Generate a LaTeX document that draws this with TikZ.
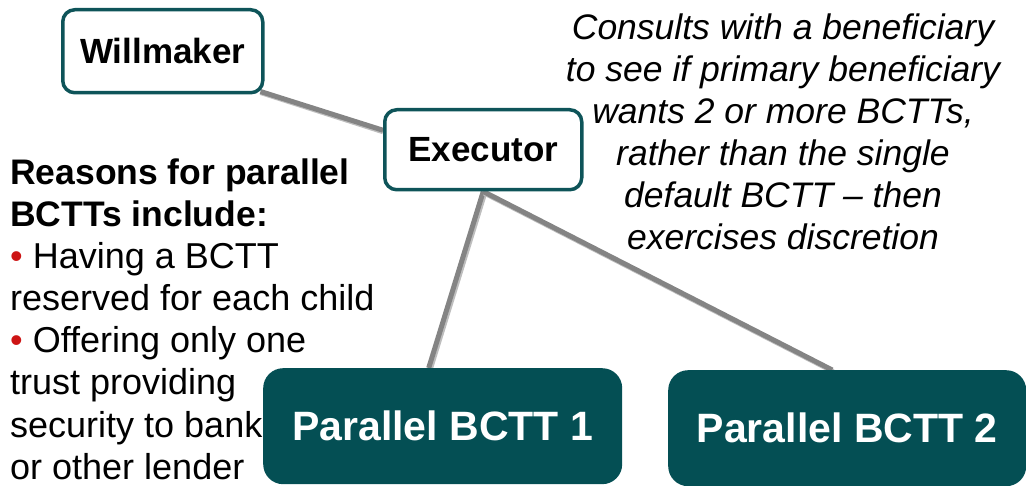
\documentclass[tikz,border=0pt]{standalone}
\usepackage{fontspec}
\setmainfont{Liberation Sans}
\usetikzlibrary{backgrounds,calc}
\definecolor{tealborder}{RGB}{14,84,89}
\definecolor{tealfill}{RGB}{4,79,84}
\definecolor{linkgray}{RGB}{132,132,132}
\definecolor{linkshade}{RGB}{190,190,190}
\definecolor{bulletred}{RGB}{205,20,20}
\tikzset{
  lightbox/.style={draw=tealborder, line width=3.5pt, fill=white, rounded corners=12pt,
    font=\fontsize{35}{42}\selectfont\bfseries, inner sep=0pt, anchor=north west},
  darkbox/.style={fill=tealfill, rounded corners=20pt, text=white,
    font=\fontsize{41}{48}\selectfont\bfseries, inner sep=0pt, anchor=north west},
  link/.style={draw=linkgray, line width=5pt},
  linkshadow/.style={draw=linkshade, line width=5pt},
  noteline/.style={font=\fontsize{35.5}{42}\selectfont\itshape, inner sep=0pt, anchor=base},
  sideline/.style={font=\fontsize{36}{42}\selectfont, inner sep=0pt, anchor=base west},
  sidehead/.style={font=\fontsize{35.5}{42}\selectfont\bfseries, inner sep=0pt, anchor=base west},
}
\newcommand{\redbullet}{\textcolor{bulletred}{\textbullet}\ }
\begin{document}
\begin{tikzpicture}[x=1pt,y=-1pt]
\useasboundingbox (0,0) rectangle (1026,486);

% boxes
\node[lightbox, minimum width=200pt, minimum height=83pt] (will) at (61,8) {Willmaker};
\node[lightbox, minimum width=197pt, minimum height=80pt] (exec) at (383,108) {Executor};
\node[darkbox, minimum width=359pt, minimum height=116pt] (p1) at (263,368) {Parallel BCTT 1};
\node[darkbox, minimum width=358pt, minimum height=116pt] (p2) at (668,370) {Parallel BCTT 2};

% connectors behind the boxes
\begin{scope}[on background layer]
  \draw[linkshadow] ([xshift=-4pt,yshift=2pt]will.south east) -- ([yshift=18pt]exec.west);
  \draw[link] ([xshift=-4pt,yshift=3pt]will.south east) -- ([yshift=19.5pt]exec.west);
  \draw[linkshadow] ([xshift=2pt]exec.south) -- ([xshift=-12pt]p1.north);
  \draw[link] (exec.south) -- ([xshift=-14pt]p1.north);
  \draw[linkshadow] ([xshift=1pt,yshift=-1.5pt]exec.south) -- ([xshift=-14pt,yshift=-1.5pt]p2.north);
  \draw[link] (exec.south) -- ([xshift=-15pt]p2.north);
\end{scope}

% note on the executor's discretion
\node[noteline] (n1) at (783,40)  {Consults with a beneficiary};
\node[noteline] (n2) at (783,82)  {to see if primary beneficiary};
\node[noteline] (n3) at (783,124) {wants 2 or more BCTTs,};
\node[noteline] (n4) at (783,166) {rather than the single};
\node[noteline] (n5) at (783,208) {default BCTT – then};
\node[noteline] (n6) at (783,250) {exercises discretion};

% reasons list
\node[sidehead] (r1) at (10,185) {Reasons for parallel};
\node[sidehead] (r2) at (10,227) {BCTTs include:};
\node[sideline] (r3) at (10,269) {\redbullet Having a BCTT};
\node[sideline] (r4) at (10,311) {reserved for each child};
\node[sideline] (r5) at (10,353) {\redbullet Offering only one};
\node[sideline] (r6) at (10,395) {trust providing};
\node[sideline] (r7) at (10,437) {security to bank};
\node[sideline] (r8) at (10,479) {or other lender};
\end{tikzpicture}
\end{document}
